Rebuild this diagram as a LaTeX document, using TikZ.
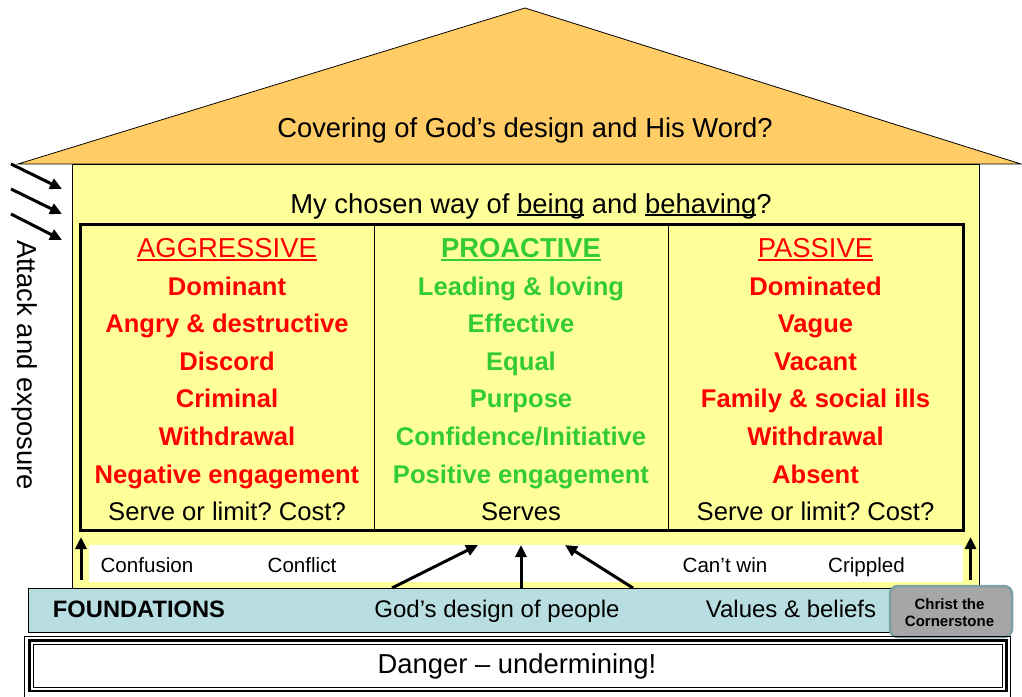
\documentclass[tikz,border=0pt]{standalone}
\usepackage{fontspec}
\setmainfont{Liberation Sans}
\usetikzlibrary{arrows.meta}
\frenchspacing
\definecolor{roofc}{HTML}{FFCC66}
\definecolor{yel}{HTML}{FFFF99}
\definecolor{teal2}{HTML}{B8DEE2}
\definecolor{grayc}{HTML}{A6A6A6}
\definecolor{grayb}{HTML}{7F9FA5}
\definecolor{grn}{HTML}{33CC33}
\definecolor{rd}{HTML}{FF0000}
\newcommand\myul[1]{\setbox0\hbox{#1}\rlap{\rule[-0.12em]{\wd0}{0.07em}}\box0\relax}
\tikzset{
  box/.style={anchor=north west, inner sep=0pt, outer sep=0pt},
  big/.style={font=\fontsize{27.4}{32}\selectfont, anchor=base, inner sep=0pt},
  rowt/.style={font=\fontsize{25.6}{30}\selectfont\bfseries, anchor=base, inner sep=0pt},
  rown/.style={font=\fontsize{25.6}{30}\selectfont, anchor=base, inner sep=0pt},
  small/.style={font=\fontsize{20.6}{24}\selectfont, anchor=base, inner sep=0pt},
  fnd/.style={font=\fontsize{24}{28}\selectfont, anchor=base, inner sep=0pt},
  arr/.style={line width=3pt, -{Triangle[length=12pt,width=11pt]}},
}
\begin{document}
\begin{tikzpicture}[x=1pt,y=-1pt]
\path[use as bounding box] (0,0) rectangle (1022,696);
% roof
\path[fill=roofc, draw=black, line width=0.8pt] (18,164) -- (525,8) -- (1021,164) -- cycle;
\node[big] (cover) at (525,137) {Covering of God’s design and His Word?};
% house body
\node[box, draw, fill=yel, line width=0.8pt, minimum width=907pt, minimum height=424pt] (body) at (72,164) {};
\node[box, fill=white, minimum width=874pt, minimum height=37pt] (strip) at (89,545) {};
\node[box, draw, line width=3pt, minimum width=883pt, minimum height=306pt] (grid) at (80,224) {};
\draw[line width=0.8pt] (374,224) -- (374,530) (668,224) -- (668,530);
\node[big] (chosen) at (531,213) {My chosen way of \myul{being} and \myul{behaving}?};
% columns
\node[big, text=rd] (aggr) at (227,257.4) {\myul{AGGRESSIVE}};
\node[big, text=grn, font=\fontsize{27.4}{32}\selectfont\bfseries] (proa) at (521,257.4) {\myul{PROACTIVE}};
\node[big, text=rd] (pass) at (815.5,257.4) {\myul{PASSIVE}};
\node[rowt, text=rd] (a1) at (227,295) {Dominant};
\node[rowt, text=rd] (a2) at (227,332.6) {Angry \& destructive};
\node[rowt, text=rd] (a3) at (227,370.2) {Discord};
\node[rowt, text=rd] (a4) at (227,407.8) {Criminal};
\node[rowt, text=rd] (a5) at (227,445.4) {Withdrawal};
\node[rowt, text=rd] (a6) at (227,483) {Negative engagement};
\node[rown] (a7) at (227,520.6) {Serve or limit? Cost?};
\node[rowt, text=grn] (b1) at (521,295) {Leading \& loving};
\node[rowt, text=grn] (b2) at (521,332.6) {Effective};
\node[rowt, text=grn] (b3) at (521,370.2) {Equal};
\node[rowt, text=grn] (b4) at (521,407.8) {Purpose};
\node[rowt, text=grn] (b5) at (521,445.4) {Confidence/Initiative};
\node[rowt, text=grn] (b6) at (521,483) {Positive engagement};
\node[rown] (b7) at (521,520.6) {Serves};
\node[rowt, text=rd] (c1) at (815.5,295) {Dominated};
\node[rowt, text=rd] (c2) at (815.5,332.6) {Vague};
\node[rowt, text=rd] (c3) at (815.5,370.2) {Vacant};
\node[rowt, text=rd] (c4) at (815.5,407.8) {Family \& social ills};
\node[rowt, text=rd] (c5) at (815.5,445.4) {Withdrawal};
\node[rowt, text=rd] (c6) at (815.5,483) {Absent};
\node[rown] (c7) at (815.5,520.6) {Serve or limit? Cost?};
% strip labels
\node[small] (confu) at (147,572) {Confusion};
\node[small] (confl) at (302,572) {Conflict};
\node[small] (cant) at (725,572) {Can’t win};
\node[small] (crip) at (866.5,572) {Crippled};
% foundations
\node[box, draw, fill=teal2, line width=0.8pt, minimum width=877pt, minimum height=44pt] (found) at (28,588) {};
\node[fnd, font=\fontsize{23.7}{28}\selectfont\bfseries] (fl) at (139,617) {FOUNDATIONS};
\node[fnd] (gd) at (497,617) {God’s design of people};
\node[fnd] (vb) at (791,617) {Values \& beliefs};
\node[box, draw=grayb, fill=grayc, line width=2.5pt, rounded corners=8pt, minimum width=122pt, minimum height=51pt] (christ) at (890,586) {};
\node[font=\fontsize{15}{17}\selectfont\bfseries, anchor=base, inner sep=0pt] (ch1) at (949.5,609) {Christ the};
\node[font=\fontsize{15}{17}\selectfont\bfseries, anchor=base, inner sep=0pt] (ch2) at (949.5,626) {Cornerstone};
% danger
\draw[line width=0.9pt] (24.5,636.5) rectangle (1010.5,697);
\draw[line width=2.5pt] (29.5,640.5) rectangle (1006.5,691);
\draw[line width=0.9pt] (33.5,644.5) rectangle (1002.5,687.5);
\node[big] (danger) at (517,673) {Danger – undermining!};
% attack
\node[big, rotate=-90] (attack) at (17,365) {Attack and exposure};
\coordinate (s1) at (11,164); \coordinate (e1) at (62,189);
\coordinate (s2) at (11,189); \coordinate (e2) at (62,214);
\coordinate (s3) at (11,214); \coordinate (e3) at (62,240);
\draw[arr] (s1) -- (e1);
\draw[arr] (s2) -- (e2);
\draw[arr] (s3) -- (e3);
% side arrows
\coordinate (ls) at (81,580); \coordinate (le) at (81,537);
\coordinate (rs) at (970.5,580); \coordinate (re) at (970.5,537);
\draw[arr] (ls) -- (le);
\draw[arr] (rs) -- (re);
% foundation arrows
\coordinate (f1) at (392,588); \coordinate (t1) at (478,545);
\coordinate (f2) at (521,588); \coordinate (t2) at (521,545);
\coordinate (f3) at (633,588); \coordinate (t3) at (565,545);
\draw[arr] (f1) -- (t1);
\draw[arr] (f2) -- (t2);
\draw[arr] (f3) -- (t3);
\end{tikzpicture}
\end{document}
